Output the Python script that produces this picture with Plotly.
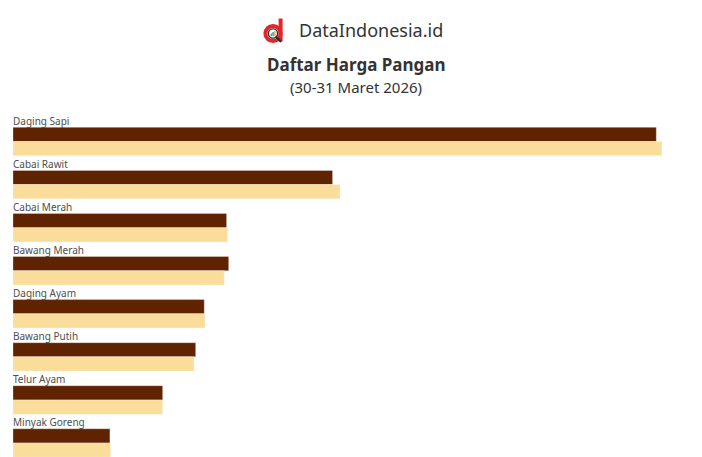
import base64
import plotly.graph_objects as go

categories = ["Daging Sapi", "Cabai Rawit", "Cabai Merah", "Bawang Merah",
              "Daging Ayam", "Bawang Putih", "Telur Ayam", "Minyak Goreng"]
harga_30_maret = [138400, 68750, 45950, 46400, 41150, 39300, 32200, 20850]
harga_31_maret = [139600, 70350, 46200, 45450, 41300, 38950, 32200, 21000]
series_names = ["30 Maret 2026", "31 Maret 2026"]

OFF = 8  # default page body margin
W, H = 702 - OFF, 457 - OFF
L, R, T, B = 13 - OFF, 15, 120 - OFF, 0
PW, PH = W - L - R, H - T - B
FONT = "Noto Sans"


def px_x(px):
    return (px - OFF - L) / PW


def px_y(py):
    return (H - B - (py - OFF)) / PH


logo_svg = """<svg xmlns='http://www.w3.org/2000/svg' width='24' height='26' viewBox='0 0 24 26'>
<circle cx='10' cy='15.5' r='7.6' fill='none' stroke='#e2262c' stroke-width='4'/>
<rect x='15.6' y='0.5' width='4' height='23' fill='#e2262c'/>
<circle cx='10' cy='15.5' r='4.6' fill='#ffffff' stroke='#2f2f2f' stroke-width='1.4'/>
<rect x='7.6' y='15.5' width='1.3' height='2.6' fill='#3aa655'/>
<rect x='9.4' y='14' width='1.3' height='4.1' fill='#2f80c9'/>
<rect x='11.2' y='13' width='1.3' height='5.1' fill='#f0a020'/>
<line x1='13.4' y1='19' x2='17.5' y2='23.2' stroke='#2f2f2f' stroke-width='2.4' stroke-linecap='round'/>
</svg>"""
logo_uri = "data:image/svg+xml;base64," + base64.b64encode(logo_svg.encode()).decode()

fig = go.Figure()
fig.add_trace(go.Bar(
    y=categories, x=harga_30_maret, orientation="h", name=series_names[0],
    marker=dict(color="#5f2300", line=dict(color="rgba(255,255,255,0.3)", width=1)),
))
fig.add_trace(go.Bar(
    y=categories, x=harga_31_maret, orientation="h", name=series_names[1],
    marker=dict(color="#fadc9b", line=dict(color="rgba(255,255,255,0.3)", width=1)),
))

annotations = []
for c in categories:
    annotations.append(dict(
        x=0, y=c, xref="x", yref="y", text=c, showarrow=False,
        xanchor="left", yanchor="middle", xshift=-2, yshift=21,
        font=dict(family=FONT, size=10, color="#4d4d4d"),
    ))

annotations += [
    dict(x=px_x(297), y=px_y(30), xref="paper", yref="paper", text="DataIndonesia.id",
         showarrow=False, xanchor="left", yanchor="middle",
         font=dict(family=FONT, size=18, color="#333333")),
    dict(x=px_x(356), y=px_y(64), xref="paper", yref="paper", text="<b>Daftar Harga Pangan</b>",
         showarrow=False, xanchor="center", yanchor="middle",
         font=dict(family=FONT, size=17, color="#333333")),
    dict(x=px_x(356), y=px_y(87), xref="paper", yref="paper", text="(30-31 Maret 2026)",
         showarrow=False, xanchor="center", yanchor="middle",
         font=dict(family=FONT, size=15, color="#333333")),
]

fig.update_layout(
    width=W, height=H,
    margin=dict(l=L, r=R, t=T, b=B, pad=0),
    paper_bgcolor="white", plot_bgcolor="white",
    barmode="group", bargap=0.34, bargroupgap=0,
    showlegend=False,
    xaxis=dict(range=[0, 145000], visible=False, fixedrange=True),
    yaxis=dict(range=[7.325, -0.5], visible=False, fixedrange=True),
    annotations=annotations,
    images=[dict(source=logo_uri, xref="paper", yref="paper",
                 x=px_x(263), y=px_y(18), sizex=24 / PW, sizey=26 / PH,
                 xanchor="left", yanchor="top", sizing="stretch", layer="above")],
)

fig.write_html("out.html", include_plotlyjs=True)
